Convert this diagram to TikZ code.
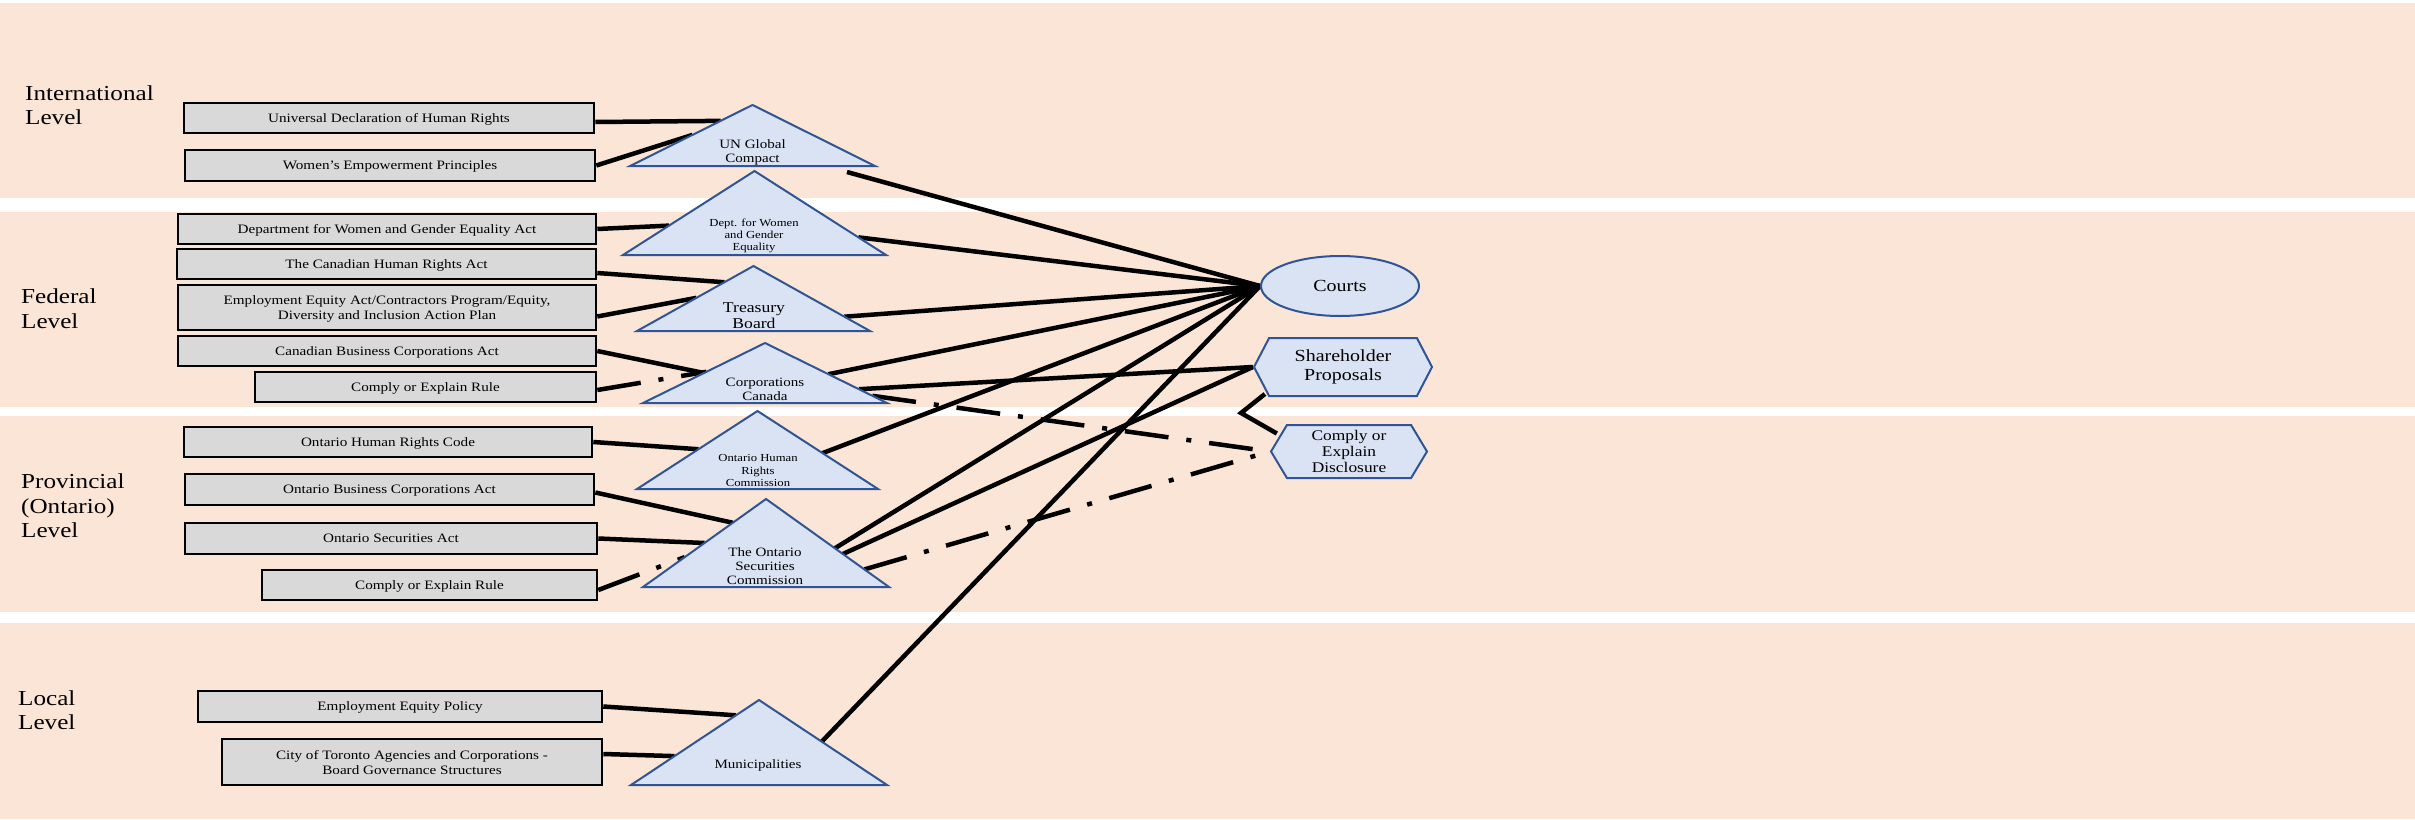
\documentclass[tikz,border=0pt]{standalone}
\usepackage{fontspec}
\setmainfont{Liberation Serif}[FakeStretch=1.18]
\usepackage{xcolor}
\definecolor{BandPeach}{HTML}{FBE5D6}
\definecolor{BoxGray}{HTML}{D9D9D9}
\definecolor{AgencyFill}{HTML}{DAE3F3}
\definecolor{AgencyEdge}{HTML}{2F5597}
\usetikzlibrary{shapes.geometric,shapes.symbols,calc}
\pgfdeclarelayer{bands}
\pgfdeclarelayer{links}
\pgfsetlayers{bands,links,main}

\begin{document}
\begin{tikzpicture}[x=1bp, y=-1bp,
        tier/.style={anchor=west, align=left, inner sep=0pt, font=\fontsize{21.4}{24.5}\selectfont},
        lawbox/.style={draw=black, fill=BoxGray, line width=2.6bp, minimum height=30bp, inner sep=0pt, text depth=0pt, align=center, font=\fontsize{12.9}{15}\selectfont},
        agency/.style={fill=AgencyFill, draw=AgencyEdge, line width=2bp, line join=miter},
        agencytext/.style={align=center, inner sep=0pt, font=\fontsize{12.8}{14}\selectfont},
        outlet/.style={fill=AgencyFill, draw=AgencyEdge, line width=2bp, inner sep=0pt, align=center},
        link/.style={line width=4.5bp, black},
        softlink/.style={link, dash pattern=on 44bp off 18bp on 5bp off 18bp}
    ]
        \useasboundingbox (0,0) rectangle (2415,819);

        % Peach bands, one per level of government
        \begin{pgfonlayer}{bands}
            \foreach \ya/\yb in {3/198, 212/407, 416/612, 623/819} {
                \fill[BandPeach] (0,\ya) rectangle (2415,\yb);
            }
        \end{pgfonlayer}

        % Level labels
        \node[tier] (intl) at (25,105) {International\\Level};
        \node[tier] (fed) at (21,308.5) {Federal\\Level};
        \node[tier] (prov) at (21,506) {Provincial\\(Ontario)\\Level};
        \node[tier] (local) at (18,710) {Local\\Level};

        % Laws, codes and policies
        \node[lawbox, minimum width=410bp] (udhr) at (389,118) {Universal Declaration of Human Rights};
        \node[lawbox, minimum width=410bp, minimum height=31bp] (wep) at (390,165.5) {Women’s Empowerment Principles};
        \node[lawbox, minimum width=418bp] (dwgeact) at (387,229) {Department for Women and Gender Equality Act};
        \node[lawbox, minimum width=419bp] (chra) at (386.5,264) {The Canadian Human Rights Act};
        \node[lawbox, minimum width=418bp, minimum height=45bp] (eea) at (387,307.5) {Employment Equity Act/Contractors Program/Equity,\\Diversity and Inclusion Action Plan};
        \node[lawbox, minimum width=418bp] (cbca) at (387,351) {Canadian Business Corporations Act};
        \node[lawbox, minimum width=341bp] (cerfed) at (425.5,387) {Comply or Explain Rule};
        \node[lawbox, minimum width=408bp] (ohrcode) at (388,442) {Ontario Human Rights Code};
        \node[lawbox, minimum width=409bp, minimum height=31bp] (obca) at (389.5,489.5) {Ontario Business Corporations Act};
        \node[lawbox, minimum width=412bp, minimum height=31bp] (osa) at (391,538.5) {Ontario Securities Act};
        \node[lawbox, minimum width=335bp] (cerprov) at (429.5,585) {Comply or Explain Rule};
        \node[lawbox, minimum width=404bp, minimum height=31bp] (eep) at (400,706.5) {Employment Equity Policy};
        \node[lawbox, minimum width=380bp, minimum height=46bp] (toronto) at (412,762) {City of Toronto Agencies and Corporations -\\Board Governance Structures};

        % Agencies as triangles: name/apex x/apex y/base y/half base
        \foreach \tri/\x/\ya/\yb/\w in {ungc/752.5/105/166/122.5, dwge/754.5/171/255/131.5,
                tbs/753.5/266/331/116.5, cc/765/343/403/122, ohrc/757.5/411/489/120.5,
                osc/766/499/587/123, muni/759/700/785/128} {
            \coordinate (\tri-top) at (\x,\ya);
            \coordinate (\tri-l) at (\x-\w,\yb);
            \coordinate (\tri-r) at (\x+\w,\yb);
            \filldraw[agency] (\tri-top) -- (\tri-l) -- (\tri-r) -- cycle;
        }
        \node[agencytext] (ungc) at (752.5,152) {UN Global\\Compact};
        \node[agencytext, font=\fontsize{10.8}{12}\selectfont] (dwge) at (754,235.5) {Dept. for Women\\and Gender\\Equality};
        \node[agencytext, font=\fontsize{15}{16}\selectfont] (tbs) at (754,315.5) {Treasury\\Board};
        \node[agencytext] (cc) at (765,389.5) {Corporations\\Canada};
        \node[agencytext, font=\fontsize{10.8}{12.5}\selectfont] (ohrc) at (758,470.5) {Ontario Human\\Rights\\Commission};
        \node[agencytext] (osc) at (765,566.5) {The Ontario\\Securities\\Commission};
        \node[agencytext] (muni) at (758,765.5) {Municipalities};

        % Outlets on the right
        \node[outlet, ellipse, minimum width=158bp, minimum height=60bp, font=\fontsize{17}{18}\selectfont] (courts) at (1340,286) {Courts};
        \node[outlet, signal, signal to=west and east, signal pointer angle=125, minimum width=178bp, minimum height=58bp, font=\fontsize{17}{18.3}\selectfont] (shp) at (1343,367) {Shareholder\\Proposals};
        \node[outlet, signal, signal to=west and east, signal pointer angle=118, minimum width=156bp, minimum height=53bp, font=\fontsize{14.8}{16.5}\selectfont] (ced) at (1349,451.5) {Comply or\\Explain\\Disclosure};
        \coordinate (bend) at (1241,413);

        \begin{pgfonlayer}{links}
            % Instruments feeding the agencies
            \draw[link] ($(udhr.east)+(0,4)$) -- ($(ungc-top)!0.26!(ungc-l)$);
            \draw[link] (wep.east) -- ($(ungc-top)!0.49!(ungc-l)$);
            \draw[link] (dwgeact.east) -- ($(dwge-top)!0.65!(dwge-l)$);
            \draw[link] ($(chra.east)+(0,9)$) -- ($(tbs-top)!0.25!(tbs-l)$);
            \draw[link] ($(eea.east)+(0,9)$) -- ($(tbs-top)!0.49!(tbs-l)$);
            \draw[link] (cbca.east) -- ($(cc-top)!0.5!(cc-l)$);
            \draw[softlink] ($(cerfed.east)+(0,3)$) -- ($(cc-top)!0.48!(cc-l)$);
            \draw[link] (ohrcode.east) -- ($(ohrc-top)!0.49!(ohrc-l)$);
            \draw[link] ($(obca.east)+(0,3)$) -- ($(osc-top)!0.27!(osc-l)$);
            \draw[link] (osa.east) -- ($(osc-top)!0.5!(osc-l)$);
            \draw[softlink] ($(cerprov.east)+(0,5)$) -- ($(osc-top)!0.66!(osc-l)$);
            \draw[link] (eep.east) -- ($(muni-top)!0.18!(muni-l)$);
            \draw[link] ($(toronto.east)+(0,-8)$) -- ($(muni-top)!0.66!(muni-l)$);

            % Agencies answering to courts, proposals and disclosure
            \draw[link] ($(ungc-r)+(-28,6)$) -- (courts.west);
            \foreach \tri/\pos in {dwge/0.79, tbs/0.78, cc/0.52, ohrc/0.54, osc/0.56, muni/0.49} {
                \draw[link] ($(\tri-top)!\pos!(\tri-r)$) -- (courts.west);
            }
            \draw[link] ($(cc-top)!0.77!(cc-r)$) -- (shp.west);
            \draw[link] ($(osc-top)!0.625!(osc-r)$) -- (shp.west);
            \draw[softlink] ($(cc-top)!0.88!(cc-r)$) -- (ced.west);
            \draw[softlink] ($(osc-top)!0.8!(osc-r)$) -- (ced.west);
            \draw[link] ($(shp.west)+(12,27)$) -- (bend) -- ($(ced.west)+(7,-18)$);
        \end{pgfonlayer}
    \end{tikzpicture}
\end{document}
